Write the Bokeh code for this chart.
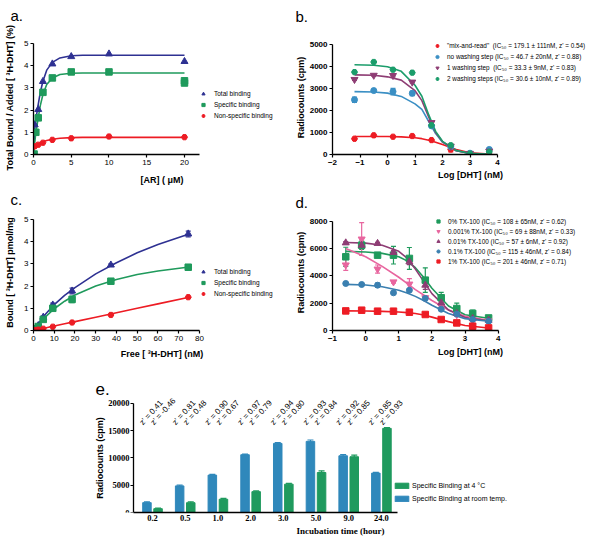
from bokeh.plotting import figure
from bokeh.models import (Range1d, FixedTicker, Legend, LegendItem, Whisker, TeeHead,
                          ColumnDataSource, Label, LabelSet)
from bokeh.layouts import column, row
from bokeh.core.properties import value
from bokeh.embed import file_html
from bokeh.resources import INLINE

SANS = "Liberation Sans"
SERIF = "Liberation Serif"

# ---------------- data: panel a ----------------
a_x_total = [0.16, 0.63, 1.25, 2.5, 5, 10, 20]
a_y_total = [1.34, 2.03, 3.29, 4.08, 4.41, 4.53, 4.19]
a_x_spec = [0.08, 0.31, 0.63, 1.25, 2.5, 5, 10, 20, 20]
a_y_spec = [0.02, 1.0, 1.65, 2.8, 3.45, 3.72, 3.72, 3.32, 3.22]
a_x_nons = [0.16, 0.63, 1.25, 2.5, 5, 10, 20]
a_y_nons = [0.37, 0.44, 0.53, 0.66, 0.73, 0.81, 0.78]
a_fit_x = [0, 0.15, 0.3, 0.6, 0.9, 1.25, 1.75, 2.5, 3.5, 5, 6.5, 20]
a_fit_total = [0, 1.1, 1.55, 2.2, 2.8, 3.3, 3.8, 4.15, 4.35, 4.45, 4.47, 4.47]
a_fit_spec = [0, 0.5, 0.95, 1.6, 2.2, 2.7, 3.15, 3.45, 3.6, 3.66, 3.67, 3.67]
a_fit_nons = [0.2, 0.33, 0.38, 0.45, 0.52, 0.57, 0.63, 0.69, 0.73, 0.76, 0.77, 0.77]
ac_labels = ["Total binding", "Specific binding", "Non-specific binding"]

# ---------------- data: panel b ----------------
b_x = [-1.2, -0.5, 0.2, 0.9, 1.6, 2.3, 3.0, 3.7]
b_mix = [716, 872, 808, 840, 656, 230, 20, 0]
b_mix_err = [40, 30, 30, 30, 30, 110, 20, 20]
b_now = [2490, 2905, 2860, 2780, 1300, 350, 60, 230]
b_now_err = [120, 40, 150, 100, 60, 40, 30, 60]
b_w1 = [3410, 3600, 3590, 3290, 1450, 380, 50, 150]
b_w1_err = [40, 40, 60, 40, 50, 40, 20, 40]
b_w2 = [3745, 4205, 3855, 3720, 1330, 420, 40, 120]
b_w2_err = [40, 40, 40, 40, 50, 40, 20, 40]
b_fit_x = [-1.2, -0.5, 0, 0.5, 1, 1.25, 1.5, 1.75, 2, 2.5, 3, 3.7]
b_fit_mix = [820, 820, 815, 800, 760, 720, 650, 560, 450, 230, 80, 15]
b_fit_now = [2860, 2840, 2790, 2640, 2300, 2050, 1500, 950, 560, 170, 45, 10]
b_fit_w1 = [3620, 3600, 3530, 3380, 2900, 2450, 1700, 1000, 580, 170, 45, 10]
b_fit_w2 = [4080, 4060, 3990, 3780, 3150, 2650, 1800, 1050, 600, 180, 50, 10]
b_labels = ['"mix-and-read"  (IC\u2085\u2080 = 179.1 \u00b1 111nM, z\' = 0.54)',
            "no washing step (IC\u2085\u2080 = 46.7 \u00b1 20nM, z' = 0.88)",
            "1 washing step  (IC\u2085\u2080 = 33.3 \u00b1 9nM, z' = 0.83)",
            "2 washing steps (IC\u2085\u2080 = 30.6 \u00b1 10nM, z' = 0.89)"]

# ---------------- data: panel c ----------------
c_x = [0.6, 1.2, 2.3, 4.7, 9.3, 18.6, 37.3, 74.6]
c_total = [0.04, 0.1, 0.22, 0.6, 1.15, 1.78, 2.95, 4.35]
c_total_err = [0.02, 0.02, 0.03, 0.05, 0.08, 0.13, 0.05, 0.13]
c_spec = [0.03, 0.08, 0.18, 0.5, 1.0, 1.4, 2.22, 2.85]
c_spec_err = [0.02, 0.02, 0.03, 0.06, 0.06, 0.15, 0.05, 0.12]
c_nons = [0.01, 0.02, 0.04, 0.08, 0.17, 0.36, 0.7, 1.5]
c_fit_x = [0, 5, 10, 15, 20, 30, 40, 50, 60, 75]
c_fit_total = [0, 0.65, 1.17, 1.58, 1.93, 2.55, 3.05, 3.5, 3.87, 4.35]
c_fit_spec = [0, 0.55, 0.98, 1.32, 1.6, 2.0, 2.3, 2.52, 2.68, 2.86]
c_fit_nons = [0, 0.1, 0.2, 0.3, 0.4, 0.6, 0.8, 1.0, 1.2, 1.5]

# ---------------- data: panel d ----------------
d_x = [-0.6, -0.12, 0.36, 0.84, 1.32, 1.8, 2.28, 2.75, 3.23, 3.71]
d_0 = [5400, 6250, 5520, 5520, 5280, 3690, 2400, 1610, 1250, 920]
d_0_err = [700, 300, 150, 650, 800, 900, 400, 400, 250, 150]
d_0001 = [4800, 6700, 4500, 3560, 3400, 2400, 1800, 1150, 800, 700]
d_0001_err = [400, 1200, 300, 100, 400, 150, 200, 100, 80, 60]
d_001 = [6420, 6250, 6380, 5720, 5030, 3320, 2020, 1250, 880, 750]
d_001_err = [100, 150, 80, 150, 200, 300, 200, 100, 80, 60]
d_01 = [3445, 3370, 3320, 2760, 2950, 2350, 1560, 1200, 800, 680]
d_01_err = [60, 60, 150, 60, 80, 80, 100, 60, 50, 40]
d_1 = [1437, 1488, 1415, 1415, 1341, 1173, 806, 557, 315, 191]
d_1_err = [50, 50, 50, 40, 40, 40, 40, 40, 30, 30]
d_fit_x = [-0.6, 0, 0.5, 1, 1.25, 1.5, 1.75, 2, 2.5, 3, 3.7]
d_fit_0 = [5800, 5750, 5650, 5400, 5100, 4600, 3900, 3100, 1800, 1150, 900]
d_fit_0001 = [6000, 5400, 4700, 3900, 3450, 3000, 2600, 2200, 1500, 1050, 750]
d_fit_001 = [6450, 6400, 6250, 5800, 5300, 4500, 3600, 2700, 1500, 950, 720]
d_fit_01 = [3380, 3330, 3200, 2950, 2750, 2500, 2200, 1850, 1250, 870, 680]
d_fit_1 = [1440, 1430, 1400, 1360, 1310, 1240, 1130, 980, 650, 370, 180]
d_labels = ["0% TX-100 (IC\u2085\u2080 = 108 \u00b1 65nM, z' = 0.62)",
            "0.001% TX-100 (IC\u2085\u2080 = 69 \u00b1 88nM, z' = 0.33)",
            "0.01% TX-100 (IC\u2085\u2080 = 57 \u00b1 6nM, z' = 0.92)",
            "0.1% TX-100 (IC\u2085\u2080 = 115 \u00b1 46nM, z' = 0.84)",
            "1% TX-100 (IC\u2085\u2080 = 201 \u00b1 46nM, z' = 0.71)"]

# ---------------- data: panel e ----------------
e_times = ["0.2", "0.5", "1.0", "2.0", "3.0", "5.0", "9.0", "24.0"]
e_room = [1810, 4880, 6860, 10600, 12680, 13050, 10410, 7230]
e_room_err = [150, 150, 120, 100, 150, 250, 200, 150]
e_cold = [700, 1800, 2430, 3830, 5200, 7340, 10230, 15440]
e_cold_err = [120, 150, 150, 120, 150, 300, 300, 150]
e_z_room = ["0.41", "0.81", "0.90", "0.97", "0.94", "0.93", "0.92", "0.85"]
e_z_cold = ["-0.46", "0.48", "0.67", "0.79", "0.80", "0.84", "0.85", "0.93"]
e_labels = ["Specific Binding at 4 \u00b0C", "Specific Binding at room temp."]

# ---------------- colours ----------------
NAVY = "#2e3192"
GREEN = "#1f9a5c"
RED = "#ed1c24"
STEEL = "#3a8fc4"
PLUM = "#8e3d74"
TEAL = "#1b9d6b"
PINK = "#e8669f"
DBLUE = "#3a7fb0"
EBLUE = "#2f88bb"
EGREEN = "#1f9a5e"


def base_fig(w, h, xr, yr, ml, mr, mt, mb):
    p = figure(width=w, height=h, x_range=xr, y_range=yr, output_backend="svg",
               toolbar_location=None, min_border_left=ml, min_border_right=mr,
               min_border_top=mt, min_border_bottom=mb)
    p.outline_line_color = None
    p.xgrid.visible = False
    p.ygrid.visible = False
    return p


def style_axes(p, xlabel, ylabel, tick_font, tick_style, label_font, xl_so, yl_so,
               xticks=None, yticks=None, xbounds=None, ybounds=None,
               tick_size="8px", label_size="9px"):
    if xticks is not None:
        p.xaxis.ticker = FixedTicker(ticks=xticks)
    if yticks is not None:
        p.yaxis.ticker = FixedTicker(ticks=yticks)
    if xbounds is not None:
        p.xaxis.bounds = xbounds
    if ybounds is not None:
        p.yaxis.bounds = ybounds
    p.xaxis.axis_label = xlabel
    p.yaxis.axis_label = ylabel
    for ax in (p.xaxis, p.yaxis):
        ax.axis_line_color = "black"
        ax.axis_line_width = 1.3
        ax.major_tick_line_color = "black"
        ax.major_tick_line_width = 1.2
        ax.major_tick_in = 0
        ax.major_tick_out = 3
        ax.minor_tick_line_color = None
        ax.major_label_text_font = tick_font
        ax.major_label_text_font_size = tick_size
        ax.major_label_text_font_style = tick_style
        ax.major_label_text_color = "black"
        ax.major_label_standoff = 2
        ax.axis_label_text_font = label_font
        ax.axis_label_text_font_size = label_size
        ax.axis_label_text_font_style = "bold"
        ax.axis_label_text_color = "black"
    p.xaxis.axis_label_standoff = xl_so
    p.yaxis.axis_label_standoff = yl_so


def letter(p, txt, x, y, place="above", size="15px"):
    p.add_layout(Label(x=x, y=y, x_units="screen", y_units="screen", text=txt,
                       text_font=SANS, text_font_size=size, text_color="black",
                       text_baseline="alphabetic", text_align="left"), place)


def errbars(p, x, y, e, color, head=5):
    src = ColumnDataSource(dict(x=x, lo=[a - b for a, b in zip(y, e)],
                                hi=[a + b for a, b in zip(y, e)]))
    p.add_layout(Whisker(source=src, base="x", lower="lo", upper="hi",
                         line_color=color, line_width=1.2,
                         upper_head=TeeHead(size=head, line_color=color, line_width=1.2),
                         lower_head=TeeHead(size=head, line_color=color, line_width=1.2)))


def add_legend(p, labels, renderers, vx, vy, font_size, gw, gh, lh, spacing, standoff):
    leg = Legend(items=[LegendItem(label=l, renderers=[r]) for l, r in zip(labels, renderers)],
                 location=(vx, vy), label_text_font=SANS, label_text_font_size=font_size,
                 label_text_color="black", glyph_width=gw, glyph_height=gh,
                 label_height=lh, spacing=spacing, label_standoff=standoff,
                 padding=0, margin=0, border_line_color=None, background_fill_alpha=0)
    p.add_layout(leg)


# ================= panel a =================
pa = base_fig(290, 190, Range1d(0, 34.04), Range1d(0, 5.135), 33, 0, 40, 36)
style_axes(pa, "[AR] ( \u03bcM)", "Total Bound / Added [ \u00b3H-DHT] (%)", SANS, "normal", SANS,
           7, 6, xticks=[0, 5, 10, 15, 20], yticks=[0, 1, 2, 3, 4, 5],
           xbounds=(0, 22), ybounds=(0, 5))
pa.line(a_fit_x, a_fit_total, color=NAVY, line_width=1.6)
pa.line(a_fit_x, a_fit_spec, color=GREEN, line_width=1.6)
pa.line(a_fit_x, a_fit_nons, color=RED, line_width=1.6)
ra1 = pa.scatter(a_x_total, a_y_total, marker="triangle", size=7, color=NAVY)
ra2 = pa.scatter(a_x_spec, a_y_spec, marker="square", size=6.5, color=GREEN)
ra3 = pa.scatter(a_x_nons, a_y_nons, marker="hex", size=6, color=RED)
add_legend(pa, ac_labels, [ra1, ra2, ra3], 166, 34.5, "6.5px", 8, 9, 9, 2, 7)
letter(pa, "a.", -23, 25)

# ================= panel b =================
pb = base_fig(318, 190, Range1d(-2, 8.036), Range1d(0, 5182), 42, 0, 40, 36)
style_axes(pb, "Log [DHT] (nM)", "Radiocounts (cpm)", SANS, "bold", SANS, 2, 1,
           xticks=[-2, -1, 0, 1, 2, 3, 4], yticks=[0, 1000, 2000, 3000, 4000, 5000],
           xbounds=(-2, 4), ybounds=(0, 5000))
pb.line(b_fit_x, b_fit_mix, color=RED, line_width=1.6)
pb.line(b_fit_x, b_fit_now, color=STEEL, line_width=1.6)
pb.line(b_fit_x, b_fit_w1, color=PLUM, line_width=1.6)
pb.line(b_fit_x, b_fit_w2, color=TEAL, line_width=1.6)
errbars(pb, b_x, b_mix, b_mix_err, RED)
errbars(pb, b_x, b_now, b_now_err, STEEL)
errbars(pb, b_x, b_w1, b_w1_err, PLUM)
errbars(pb, b_x, b_w2, b_w2_err, TEAL)
rb1 = pb.scatter(b_x, b_mix, marker="hex", size=6, color=RED)
rb2 = pb.scatter(b_x, b_now, marker="circle", size=6, color=STEEL)
rb3 = pb.scatter(b_x, b_w1, marker="inverted_triangle", size=7, color=PLUM)
rb4 = pb.scatter(b_x, b_w2, marker="hex", size=6, color=TEAL)
add_legend(pb, b_labels, [rb1, rb2, rb3, rb4], 101, 71.5, "6.4px", 8, 9, 9, 2, 6)
letter(pb, "b.", -37, 24)

# ================= panel c =================
pc = base_fig(290, 182, Range1d(0, 123.9), Range1d(0, 5.225), 33, 0, 24, 42)
style_axes(pc, "Free [ \u00b3H-DHT] (nM)", "Bound [ \u00b3H-DHT] pmol/mg", SANS, "normal", SANS,
           5, 6, xticks=list(range(0, 81, 10)), yticks=[0, 1, 2, 3, 4, 5],
           xbounds=(0, 80), ybounds=(0, 5))
pc.line(c_fit_x, c_fit_total, color=NAVY, line_width=1.6)
pc.line(c_fit_x, c_fit_spec, color=GREEN, line_width=1.6)
pc.line(c_fit_x, c_fit_nons, color=RED, line_width=1.6)
errbars(pc, c_x, c_total, c_total_err, NAVY)
errbars(pc, c_x, c_spec, c_spec_err, GREEN)
rc1 = pc.scatter(c_x, c_total, marker="triangle", size=7, color=NAVY)
rc2 = pc.scatter(c_x, c_spec, marker="square", size=6.5, color=GREEN)
rc3 = pc.scatter(c_x, c_nons, marker="hex", size=6, color=RED)
add_legend(pc, ac_labels, [rc1, rc2, rc3], 166, 32.5, "6.5px", 8, 9, 9, 2, 7)
letter(pc, "c.", -23, 15)

# ================= panel d =================
pd_ = base_fig(318, 182, Range1d(-1, 7.328), Range1d(0, 8498), 42, 0, 24, 42)
style_axes(pd_, "Log [DHT] (nM)", "Radiocounts (cpm)", SANS, "bold", SANS, 3, 1,
           xticks=[-1, 0, 1, 2, 3, 4], yticks=[0, 2000, 4000, 6000, 8000],
           xbounds=(-1, 4), ybounds=(0, 8000))
pd_.line(d_fit_x, d_fit_0, color=GREEN, line_width=1.6)
pd_.line(d_fit_x, d_fit_0001, color=PINK, line_width=1.6)
pd_.line(d_fit_x, d_fit_001, color=PLUM, line_width=1.6)
pd_.line(d_fit_x, d_fit_01, color=DBLUE, line_width=1.6)
pd_.line(d_fit_x, d_fit_1, color=RED, line_width=1.6)
errbars(pd_, d_x, d_0, d_0_err, GREEN)
errbars(pd_, d_x, d_0001, d_0001_err, PINK)
errbars(pd_, d_x, d_001, d_001_err, PLUM)
errbars(pd_, d_x, d_01, d_01_err, DBLUE)
errbars(pd_, d_x, d_1, d_1_err, RED)
rd1 = pd_.scatter(d_x, d_0, marker="square", size=6.5, color=GREEN)
rd2 = pd_.scatter(d_x, d_0001, marker="inverted_triangle", size=7, color=PINK)
rd3 = pd_.scatter(d_x, d_001, marker="triangle", size=7, color=PLUM)
rd4 = pd_.scatter(d_x, d_01, marker="circle", size=6, color=DBLUE)
rd5 = pd_.scatter(d_x, d_1, marker="square", size=6.5, color=RED)
add_legend(pd_, d_labels, [rd1, rd2, rd3, rd4, rd5], 102, 65, "6.4px", 8, 8, 8, 2, 6)
letter(pd_, "d.", -37, 12)

# ================= panel e =================
e_idx = list(range(len(e_times)))
e_x_room = [i - 0.17 for i in e_idx]
e_x_cold = [i + 0.17 for i in e_idx]
pe = base_fig(608, 171, Range1d(-2.2018, 13.70), Range1d(0, 24954), 80, 8, 4, 31)
style_axes(pe, "Incubation time (hour)", "Radiocounts (cpm)", SERIF, "bold", SANS, 2, 0,
           xticks=e_idx, yticks=[0, 5000, 10000, 15000, 20000],
           xbounds=(-0.581, 7.492), ybounds=(0, 20000), tick_size="8.5px")
pe.xaxis.major_label_overrides = {i: t for i, t in zip(e_idx, e_times)}
pe.xaxis.axis_label_text_font = SERIF
pe.xaxis.major_tick_line_color = None
pe.xaxis.major_tick_out = 0
pe.xaxis.major_label_standoff = 2
pe.yaxis.major_label_standoff = 1
pe.yaxis.fixed_location = -0.581
esrc = ColumnDataSource(dict(
    xr=e_x_room, xc=e_x_cold, room=e_room, cold=e_cold,
    room_lo=[a - b for a, b in zip(e_room, e_room_err)],
    room_hi=[a + b for a, b in zip(e_room, e_room_err)],
    cold_lo=[a - b for a, b in zip(e_cold, e_cold_err)],
    cold_hi=[a + b for a, b in zip(e_cold, e_cold_err)],
    zr=["z' = " + v for v in e_z_room],
    zc=["z' = " + v for v in e_z_cold]))
re_room = pe.vbar(x="xr", top="room", width=0.26, source=esrc, color=EBLUE)
re_cold = pe.vbar(x="xc", top="cold", width=0.26, source=esrc, color=EGREEN)
for base, lo, hi, col in (("xr", "room_lo", "room_hi", EBLUE), ("xc", "cold_lo", "cold_hi", EGREEN)):
    pe.add_layout(Whisker(source=esrc, base=base, lower=lo, upper=hi,
                          line_color=col, line_width=1.2,
                          upper_head=TeeHead(size=6, line_color=col, line_width=1.2),
                          lower_head=TeeHead(size=6, line_color=col, line_width=1.2)))
for xcol, tcol in (("xr", "zr"), ("xc", "zc")):
    pe.add_layout(LabelSet(x=xcol, y=15700, text=tcol, source=esrc, x_offset=-2.5,
                           angle=48, angle_units="deg", text_font=value(SANS),
                           text_font_size=value("8px"), text_color="black",
                           text_baseline="bottom", text_align="left"))
add_legend(pe, e_labels, [re_cold, re_room], 313, 10, "7px", 17, 7, 7, 6, 2)
pe.add_layout(Label(x=15, y=124, x_units="screen", y_units="screen", text="e.",
                    text_font=SANS, text_font_size="17px", text_color="black",
                    text_baseline="alphabetic", text_align="left"))

layout = column(row(pa, pb), row(pc, pd_), pe)
with open("out.html", "w") as f:
    f.write(file_html(layout, INLINE))
